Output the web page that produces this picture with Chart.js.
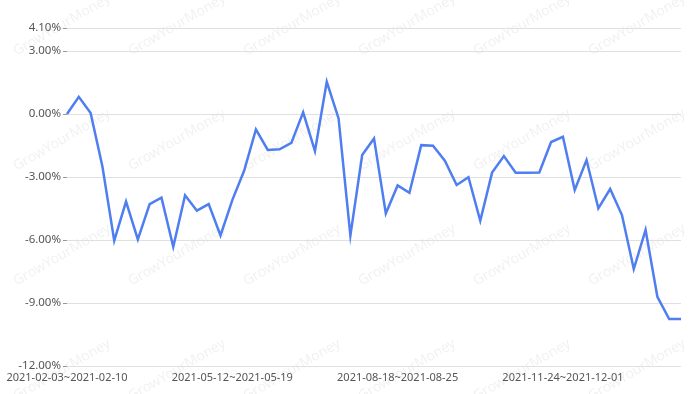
<!DOCTYPE html>
<html>
<head>
<meta charset="utf-8">
<script src="https://cdn.jsdelivr.net/npm/chart.js@4/dist/chart.umd.min.js"></script>
<style>
  html, body { margin: 0; padding: 0; background: #fff; }
  #wrap { width: 700px; height: 394px; position: relative; }
</style>
</head>
<body>
<div id="wrap"><canvas id="retChart"></canvas></div>
<script>
// weekly periods
var weeks = [
  "2021-02-03~2021-02-10", "2021-02-10~2021-02-17", "2021-02-17~2021-02-24", "2021-02-24~2021-03-03",
  "2021-03-03~2021-03-10", "2021-03-10~2021-03-17", "2021-03-17~2021-03-24", "2021-03-24~2021-03-31",
  "2021-03-31~2021-04-07", "2021-04-07~2021-04-14", "2021-04-14~2021-04-21", "2021-04-21~2021-04-28",
  "2021-04-28~2021-05-05", "2021-05-05~2021-05-12", "2021-05-12~2021-05-19", "2021-05-19~2021-05-26",
  "2021-05-26~2021-06-02", "2021-06-02~2021-06-09", "2021-06-09~2021-06-16", "2021-06-16~2021-06-23",
  "2021-06-23~2021-06-30", "2021-06-30~2021-07-07", "2021-07-07~2021-07-14", "2021-07-14~2021-07-21",
  "2021-07-21~2021-07-28", "2021-07-28~2021-08-04", "2021-08-04~2021-08-11", "2021-08-11~2021-08-18",
  "2021-08-18~2021-08-25", "2021-08-25~2021-09-01", "2021-09-01~2021-09-08", "2021-09-08~2021-09-15",
  "2021-09-15~2021-09-22", "2021-09-22~2021-09-29", "2021-09-29~2021-10-06", "2021-10-06~2021-10-13",
  "2021-10-13~2021-10-20", "2021-10-20~2021-10-27", "2021-10-27~2021-11-03", "2021-11-03~2021-11-10",
  "2021-11-10~2021-11-17", "2021-11-17~2021-11-24", "2021-11-24~2021-12-01", "2021-12-01~2021-12-08",
  "2021-12-08~2021-12-15", "2021-12-15~2021-12-22", "2021-12-22~2021-12-29", "2021-12-29~2022-01-05",
  "2022-01-05~2022-01-12", "2022-01-12~2022-01-19", "2022-01-19~2022-01-26", "2022-01-26~2022-02-02",
  "2022-02-02~2022-02-09"
];

// cumulative return, percent
var returns = [
  0.00, 0.82, 0.05, -2.50, -6.03, -4.17, -5.97, -4.29, -3.98, -6.32,
  -3.87, -4.60, -4.29, -5.78, -4.10, -2.70, -0.73, -1.71, -1.68, -1.37,
  0.08, -1.76, 1.54, -0.21, -5.79, -1.95, -1.16, -4.73, -3.40, -3.75,
  -1.48, -1.51, -2.22, -3.38, -3.01, -5.08, -2.79, -2.00, -2.79, -2.80,
  -2.78, -1.33, -1.08, -3.62, -2.19, -4.49, -3.57, -4.81, -7.38, -5.52,
  -8.70, -9.76, -9.76
];

var yTicks = [-12, -9, -6, -3, 0, 3, 4.1];
var yMin = -12;
var yMax = 4.1;
var labelEvery = 14;

var watermark = {
  id: "watermark",
  beforeDraw: function (chart) {
    var ctx = chart.ctx;
    ctx.save();
    ctx.font = "14px 'Noto Sans', sans-serif";
    ctx.fillStyle = "rgba(0,0,0,0.06)";
    ctx.textAlign = "center";
    ctx.textBaseline = "middle";
    for (var gx = 0; gx < 8; gx++) {
      for (var gy = 0; gy < 5; gy++) {
        ctx.save();
        ctx.translate(62 + gx * 115, 25 + gy * 115);
        ctx.rotate(-Math.PI / 6);
        ctx.fillText("GrowYourMoney", 0, 0);
        ctx.restore();
      }
    }
    ctx.restore();
  },
};

var ctx = document.getElementById("retChart");
var retChart = new Chart(ctx, {
  type: "line",
  data: {
    labels: weeks,
    datasets: [
      {
        data: returns,
        borderColor: "#4f7ef0",
        borderWidth: 2.5,
        pointRadius: 0,
        tension: 0,
        fill: false,
      },
    ],
  },
  options: {
    responsive: true,
    maintainAspectRatio: false,
    animation: false,
    layout: { padding: { top: 28, right: 19, left: 0, bottom: 0 } },
    plugins: {
      legend: { display: false },
      tooltip: { enabled: false },
    },
    scales: {
      x: {
        offset: false,
        grid: { display: false, drawTicks: false },
        border: { display: false },
        ticks: {
          autoSkip: false,
          maxRotation: 0,
          minRotation: 0,
          padding: 5,
          color: "#555",
          font: { size: 11, family: "'Noto Sans', sans-serif" },
          callback: function (v, i) {
            return i % labelEvery === 0 ? weeks[i] : "";
          },
        },
        afterFit: function (scale) {
          scale.height = 28;
        },
      },
      y: {
        min: yMin,
        max: yMax,
        grid: { color: "#e0e0e0", tickLength: 4, tickColor: "#999" },
        border: { display: false },
        afterBuildTicks: function (scale) {
          scale.ticks = yTicks.map(function (v) {
            return { value: v };
          });
        },
        ticks: {
          padding: 2,
          color: "#555",
          font: { size: 11.5, family: "'Noto Sans', sans-serif" },
          callback: function (v) {
            return v.toFixed(2) + "%";
          },
        },
        afterFit: function (scale) {
          scale.width = 67;
        },
      },
    },
  },
  plugins: [watermark],
});
</script>
</body>
</html>
